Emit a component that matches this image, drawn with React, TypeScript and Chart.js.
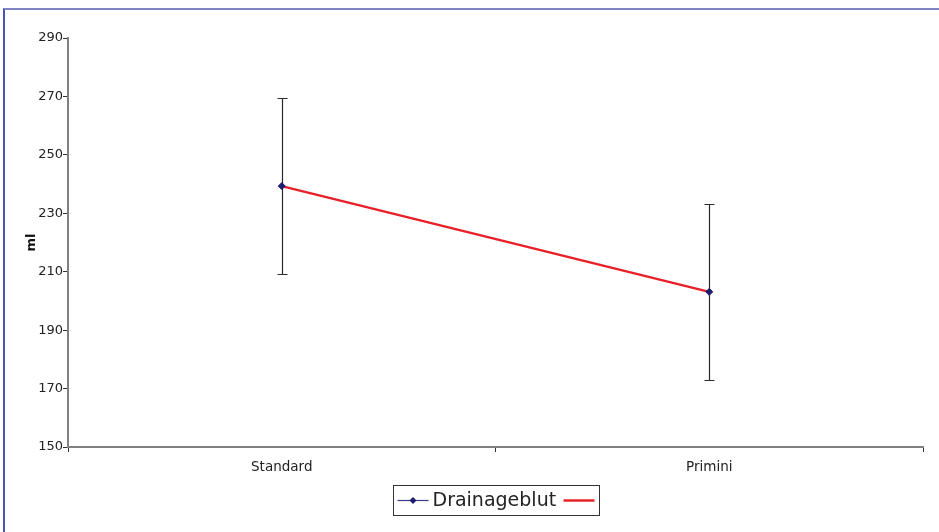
import React, { useEffect, useRef } from "react";
import { Chart, registerables } from "chart.js";

Chart.register(...registerables);

const categories = ["Standard", "Primini"];
const meanValues = [239.3, 203.1];
const errorValues = [30, 30];
const seriesName = "Drainageblut";
const yTicks = { min: 150, max: 290, step: 20 };
const yTitle = "ml";

const FONT = "'DejaVu Sans', sans-serif";

const errorBarPlugin = {
  id: "errorBars",
  beforeDatasetsDraw(chart: any) {
    const { ctx } = chart;
    const xs = chart.scales.x;
    const ys = chart.scales.y;
    ctx.save();
    ctx.strokeStyle = "#2a2a2a";
    ctx.lineWidth = 1.2;
    meanValues.forEach((m, i) => {
      const x = Math.round(xs.getPixelForValue(i)) + 0.5;
      const top = Math.round(ys.getPixelForValue(m + errorValues[i])) + 0.5;
      const bot = Math.round(ys.getPixelForValue(m - errorValues[i])) + 0.5;
      ctx.beginPath();
      ctx.moveTo(x, top);
      ctx.lineTo(x, bot);
      ctx.moveTo(x - 5, top);
      ctx.lineTo(x + 5, top);
      ctx.moveTo(x - 5, bot);
      ctx.lineTo(x + 5, bot);
      ctx.stroke();
    });
    ctx.restore();
  },
};

const legendPlugin = {
  id: "customLegend",
  afterDraw(chart: any) {
    const { ctx, chartArea } = chart;
    const cx = (chartArea.left + chartArea.right) / 2;
    const w = 206;
    const h = 30;
    const left = Math.round(cx - w / 2) + 0.5;
    const top = chartArea.bottom + 38.5;
    ctx.save();
    ctx.strokeStyle = "#333";
    ctx.lineWidth = 1;
    ctx.strokeRect(left, top, w, h);
    const midY = top + h / 2;
    ctx.strokeStyle = "#3a3a8a";
    ctx.lineWidth = 1.2;
    ctx.beginPath();
    ctx.moveTo(left + 4, midY);
    ctx.lineTo(left + 35, midY);
    ctx.stroke();
    ctx.fillStyle = "#1e1e70";
    ctx.beginPath();
    const dx = left + 19.5;
    ctx.moveTo(dx, midY - 3.5);
    ctx.lineTo(dx + 3.5, midY);
    ctx.lineTo(dx, midY + 3.5);
    ctx.lineTo(dx - 3.5, midY);
    ctx.closePath();
    ctx.fill();
    ctx.font = `19px ${FONT}`;
    ctx.fillStyle = "#222";
    ctx.textBaseline = "middle";
    ctx.textAlign = "left";
    ctx.fillText(seriesName, left + 39, midY + 1);
    ctx.strokeStyle = "#e8202a";
    ctx.lineWidth = 2.5;
    ctx.beginPath();
    ctx.moveTo(left + w - 36, midY);
    ctx.lineTo(left + w - 5, midY);
    ctx.stroke();
    ctx.restore();
  },
};

export default function App() {
  const ref = useRef<HTMLCanvasElement>(null);
  useEffect(() => {
    document.body.style.margin = "0";
    const chart = new Chart(ref.current as HTMLCanvasElement, {
      type: "line",
      data: {
        labels: categories,
        datasets: [
          {
            label: seriesName,
            data: meanValues,
            borderColor: "#e8202a",
            borderWidth: 2.5,
            pointStyle: "rectRot",
            pointRadius: 3.5,
            pointBackgroundColor: "#1e1e70",
            pointBorderColor: "#1e1e70",
            pointBorderWidth: 1,
            tension: 0,
          },
        ],
      },
      options: {
        responsive: false,
        animation: false,
        layout: { padding: { left: 20, top: 38, right: 16, bottom: 0 } },
        plugins: { legend: { display: false }, tooltip: { enabled: false } },
        scales: {
          x: {
            type: "category",
            offset: true,
            grid: {
              display: true,
              drawOnChartArea: false,
              drawTicks: true,
              tickLength: 5,
              color: "#333",
              offset: true,
            },
            border: { display: true, color: "#808080", width: 2 },
            ticks: { color: "#222", font: { family: FONT, size: 13.5 }, padding: 7 },
            afterFit(scale: any) {
              scale.height = 85;
            },
          },
          y: {
            min: yTicks.min,
            max: yTicks.max,
            grid: {
              display: true,
              drawOnChartArea: false,
              drawTicks: true,
              tickLength: 5,
              color: "#333",
            },
            border: { display: true, color: "#808080", width: 2 },
            ticks: {
              stepSize: yTicks.step,
              color: "#222",
              font: { family: FONT, size: 13 },
              padding: 0,
            },
            title: {
              display: true,
              text: yTitle,
              color: "#111",
              font: { family: FONT, size: 13, weight: "bold" },
              padding: { top: 4, bottom: 4 },
            },
            afterFit(scale: any) {
              scale.width = 48;
            },
          },
        },
      },
      plugins: [errorBarPlugin, legendPlugin],
    } as any);
    return () => chart.destroy();
  }, []);
  return (
    <div style={{ position: "relative", width: 939, height: 532, background: "#fff" }}>
      <canvas ref={ref} width={939} height={532} style={{ display: "block" }} />
      <div
        style={{
          position: "absolute",
          left: 3,
          top: 8,
          width: 940,
          height: 530,
          borderTop: "2px solid #8085c6",
          borderLeft: "2px solid #4c52bc",
          pointerEvents: "none",
        }}
      />
    </div>
  );
}
